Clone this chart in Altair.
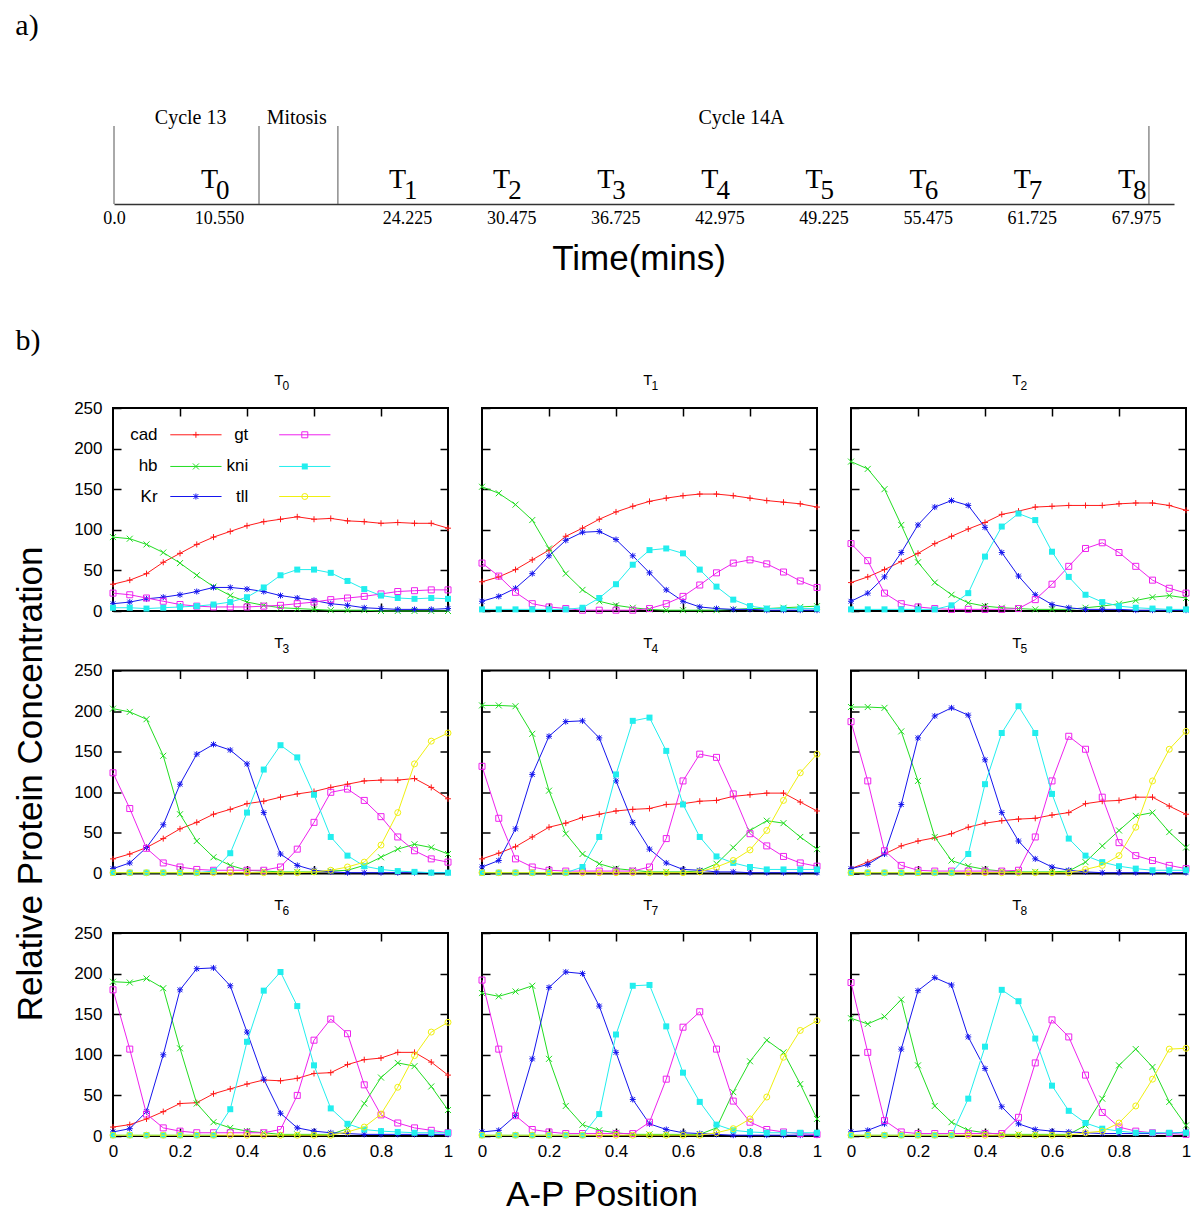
import altair as alt
import pandas as pd

# ---------------- data ----------------
X_POS = [0.0, 0.05, 0.1, 0.15, 0.2, 0.25, 0.3, 0.35, 0.4, 0.45, 0.5,
         0.55, 0.6, 0.65, 0.7, 0.75, 0.8, 0.85, 0.9, 0.95, 1.0]

GENES = ["cad", "hb", "Kr", "gt", "kni", "tll"]
GENE_COLORS = ["#ff1a1a", "#22dd22", "#1515ee", "#ee22ee", "#22eeee", "#f0f010"]
PLUS = "M-1,0L1,0M0,-1L0,1"
CROSS = "M-1,-1L1,1M-1,1L1,-1"
STAR = "M-1,0L1,0M0,-1L0,1M-0.8,-0.8L0.8,0.8M-0.8,0.8L0.8,-0.8"
GENE_SHAPES = [PLUS, CROSS, STAR, "square", "square", "circle"]
GENE_FILLED = [False, False, False, False, True, False]

T0_cad = [33, 38, 46, 60, 71, 82, 91, 98, 105, 110, 113, 116, 113, 114, 111, 110, 108, 109, 108, 108, 102]
T0_hb = [91, 89, 82, 72, 59, 44, 30, 19, 11, 7, 4, 3, 2, 1, 1, 1, 0, 0, 0, 0, 0]
T0_Kr = [9, 11, 15, 17, 20, 24, 29, 29, 27, 24, 19, 16, 13, 9, 7, 4, 3, 2, 2, 2, 3]
T0_gt = [22, 20, 16, 12, 8, 6, 5, 5, 5, 6, 7, 9, 11, 14, 16, 18, 21, 24, 25, 26, 26]
T0_kni = [4, 4, 3, 4, 5, 6, 8, 11, 17, 29, 44, 51, 51, 47, 37, 27, 19, 16, 15, 16, 15]

T1_cad = [36, 42, 51, 63, 75, 92, 102, 113, 122, 129, 135, 139, 142, 144, 144, 142, 139, 136, 134, 132, 128]
T1_hb = [153, 145, 131, 112, 77, 46, 26, 12, 7, 4, 2, 1, 1, 1, 1, 2, 3, 3, 4, 5, 6]
T1_Kr = [12, 18, 28, 46, 68, 87, 97, 98, 88, 68, 47, 26, 12, 5, 3, 2, 2, 1, 1, 1, 1]
T1_gt = [59, 43, 23, 9, 5, 3, 1, 1, 1, 1, 3, 9, 18, 32, 47, 59, 63, 58, 48, 37, 29]
T1_kni = [2, 2, 2, 2, 2, 2, 4, 16, 33, 57, 75, 77, 71, 51, 30, 14, 6, 3, 3, 3, 3]

T2_cad = [35, 42, 51, 61, 71, 83, 92, 101, 109, 119, 123, 128, 129, 130, 130, 130, 132, 133, 133, 130, 124]
T2_hb = [184, 175, 150, 106, 60, 35, 20, 10, 6, 4, 3, 2, 2, 2, 4, 6, 9, 13, 17, 19, 16]
T2_Kr = [12, 22, 42, 72, 106, 128, 136, 130, 103, 72, 43, 20, 8, 4, 2, 2, 2, 1, 1, 1, 1]
T2_gt = [83, 62, 22, 9, 5, 3, 2, 2, 2, 2, 3, 14, 33, 55, 77, 84, 72, 55, 38, 28, 22]
T2_kni = [2, 2, 2, 2, 2, 2, 7, 22, 67, 104, 120, 112, 73, 42, 20, 11, 6, 4, 3, 2, 2]

T3_cad = [18, 24, 32, 43, 55, 63, 73, 79, 86, 89, 94, 98, 101, 106, 110, 114, 115, 115, 117, 106, 92]
T3_hb = [203, 199, 190, 145, 73, 40, 20, 10, 4, 3, 2, 2, 2, 3, 4, 10, 20, 30, 36, 32, 24]
T3_Kr = [6, 13, 32, 60, 110, 147, 159, 152, 135, 75, 24, 10, 4, 2, 1, 1, 1, 1, 1, 1, 1]
T3_gt = [124, 80, 31, 13, 8, 5, 4, 4, 4, 4, 8, 30, 63, 100, 104, 90, 70, 45, 28, 18, 14]
T3_kni = [1, 1, 1, 1, 1, 1, 3, 25, 75, 128, 158, 143, 97, 45, 22, 9, 5, 3, 2, 1, 1]
T3_tll = [1, 1, 1, 1, 1, 1, 1, 1, 1, 1, 1, 1, 2, 4, 8, 14, 35, 75, 135, 163, 173]

T4_cad = [18, 25, 33, 45, 57, 62, 69, 73, 77, 79, 80, 85, 86, 89, 90, 95, 97, 99, 99, 88, 77]
T4_hb = [207, 207, 206, 172, 102, 49, 24, 12, 6, 4, 2, 2, 2, 3, 12, 32, 53, 65, 62, 45, 30]
T4_Kr = [8, 16, 55, 122, 169, 187, 188, 167, 114, 63, 30, 13, 5, 4, 2, 2, 1, 1, 1, 1, 1]
T4_gt = [132, 68, 18, 8, 4, 3, 3, 3, 3, 3, 8, 43, 114, 147, 143, 98, 49, 34, 21, 13, 9]
T4_kni = [1, 1, 1, 1, 1, 1, 8, 45, 122, 188, 192, 151, 85, 45, 21, 13, 8, 5, 5, 5, 5]
T4_tll = [1, 1, 1, 1, 1, 1, 1, 1, 1, 1, 1, 1, 1, 2, 8, 16, 29, 53, 90, 124, 147]

T5_cad = [6, 14, 24, 34, 40, 44, 49, 57, 62, 65, 67, 68, 72, 75, 86, 89, 90, 94, 94, 83, 73]
T5_hb = [205, 205, 204, 175, 114, 45, 16, 9, 5, 3, 2, 2, 2, 3, 14, 34, 53, 71, 75, 51, 32]
T5_Kr = [6, 11, 24, 85, 167, 194, 204, 195, 140, 75, 40, 18, 8, 4, 2, 1, 1, 1, 1, 1, 1]
T5_gt = [187, 114, 28, 10, 4, 3, 3, 3, 3, 3, 4, 45, 114, 169, 153, 94, 38, 22, 16, 10, 6]
T5_kni = [1, 1, 1, 1, 1, 1, 1, 24, 110, 173, 206, 173, 98, 43, 22, 14, 9, 6, 4, 4, 4]
T5_tll = [1, 1, 1, 1, 1, 1, 1, 1, 1, 1, 1, 1, 1, 1, 5, 10, 22, 57, 114, 153, 175]

T6_cad = [11, 14, 21, 30, 40, 41, 52, 58, 64, 69, 68, 71, 77, 78, 88, 94, 96, 103, 103, 91, 75]
T6_hb = [190, 189, 194, 182, 108, 40, 17, 10, 6, 4, 2, 2, 2, 2, 9, 40, 72, 90, 86, 61, 32]
T6_Kr = [5, 9, 30, 100, 180, 206, 207, 185, 128, 70, 28, 10, 6, 4, 3, 2, 2, 2, 2, 2, 2]
T6_gt = [180, 107, 27, 10, 6, 4, 4, 4, 4, 4, 8, 50, 118, 144, 126, 63, 26, 16, 10, 7, 4]
T6_kni = [1, 1, 1, 1, 1, 1, 1, 33, 116, 179, 202, 160, 87, 34, 15, 8, 6, 5, 4, 4, 4]
T6_tll = [1, 1, 1, 1, 1, 1, 1, 1, 1, 1, 1, 1, 1, 1, 5, 11, 27, 60, 99, 128, 140]

T7_hb = [176, 172, 178, 185, 95, 37, 14, 7, 4, 2, 2, 2, 2, 2, 10, 54, 92, 118, 103, 64, 21]
T7_Kr = [5, 7, 25, 95, 183, 202, 200, 160, 103, 45, 15, 8, 4, 3, 2, 1, 1, 1, 1, 1, 1]
T7_gt = [192, 107, 25, 8, 5, 3, 3, 3, 3, 3, 17, 70, 134, 153, 107, 43, 17, 8, 5, 3, 2]
T7_kni = [1, 1, 1, 1, 1, 1, 1, 27, 125, 185, 186, 135, 78, 42, 14, 7, 5, 4, 4, 4, 4]
T7_tll = [1, 1, 1, 1, 1, 1, 1, 1, 1, 1, 1, 1, 1, 1, 4, 9, 21, 48, 97, 130, 142]

T8_hb = [145, 138, 147, 168, 87, 37, 17, 7, 4, 2, 2, 2, 2, 2, 13, 46, 87, 107, 85, 42, 13]
T8_Kr = [5, 7, 15, 107, 179, 195, 186, 122, 83, 36, 15, 8, 6, 5, 4, 3, 3, 3, 3, 3, 5]
T8_gt = [189, 103, 19, 5, 3, 3, 3, 3, 3, 3, 23, 90, 143, 122, 75, 29, 11, 6, 4, 3, 2]
T8_kni = [1, 1, 1, 1, 1, 1, 1, 46, 110, 180, 166, 120, 62, 31, 16, 9, 6, 4, 4, 4, 4]
T8_tll = [1, 1, 1, 1, 1, 1, 1, 1, 1, 1, 1, 1, 1, 1, 4, 6, 16, 37, 70, 107, 108]

PANEL_DATA = [
    {"cad": T0_cad, "hb": T0_hb, "Kr": T0_Kr, "gt": T0_gt, "kni": T0_kni},
    {"cad": T1_cad, "hb": T1_hb, "Kr": T1_Kr, "gt": T1_gt, "kni": T1_kni},
    {"cad": T2_cad, "hb": T2_hb, "Kr": T2_Kr, "gt": T2_gt, "kni": T2_kni},
    {"cad": T3_cad, "hb": T3_hb, "Kr": T3_Kr, "gt": T3_gt, "kni": T3_kni, "tll": T3_tll},
    {"cad": T4_cad, "hb": T4_hb, "Kr": T4_Kr, "gt": T4_gt, "kni": T4_kni, "tll": T4_tll},
    {"cad": T5_cad, "hb": T5_hb, "Kr": T5_Kr, "gt": T5_gt, "kni": T5_kni, "tll": T5_tll},
    {"cad": T6_cad, "hb": T6_hb, "Kr": T6_Kr, "gt": T6_gt, "kni": T6_kni, "tll": T6_tll},
    {"hb": T7_hb, "Kr": T7_Kr, "gt": T7_gt, "kni": T7_kni, "tll": T7_tll},
    {"hb": T8_hb, "Kr": T8_Kr, "gt": T8_gt, "kni": T8_kni, "tll": T8_tll},
]

# timeline
TIME_TICKS = [0.0, 10.55, 24.225, 30.475, 36.725, 42.975, 49.225, 55.475, 61.725, 67.975]
SAMPLE_TIMES = TIME_TICKS[1:]
SAMPLE_IDX = ["0", "1", "2", "3", "4", "5", "6", "7", "8"]
PHASE_BOUNDS = [0.0, 13.46, 19.2, 68.75]
PHASE_NAMES = ["Cycle 13", "Mitosis", "Cycle 14A"]
PHASE_LABEL_AT = [7.7, 16.2, 44.3]

# ---------------- layout constants ----------------
W, H = 335, 203
COL_GAP, ROW_GAP = 34, 59.5
W_TOP, H_TOP = 1062, 78
SANS = "Liberation Sans"
SERIF = "Liberation Serif"
BIG = "Liberation Sans"
TICK_LEN = 8


def in_axis(orient, values, labels, pad, fmt):
    return alt.Axis(orient=orient, values=values, labels=labels, tickSize=TICK_LEN,
                    tickWidth=1.5, tickColor="black", offset=-TICK_LEN, domain=False,
                    grid=False, title=None, labelFont=SANS, labelFontSize=17,
                    labelColor="black", labelPadding=pad, labelFlush=False,
                    labelOverlap=False, format=fmt)


def make_panel(k):
    data = PANEL_DATA[k]
    row, col = divmod(k, 3)
    xs = alt.Scale(domain=[0, 1], nice=False, zero=False)
    ys = alt.Scale(domain=[0, 250], nice=False)
    frames = [pd.DataFrame({"x": X_POS, "v": data[g], "gene": g}) for g in GENES if g in data]
    df = pd.concat(frames, ignore_index=True)

    layers = []
    layers.append(alt.Chart(df).mark_point(opacity=0).encode(
        x=alt.X("x:Q", scale=xs,
                axis=in_axis("bottom", [0, 0.2, 0.4, 0.6, 0.8, 1], row == 2, 7, "~g")),
        y=alt.Y("v:Q", scale=ys,
                axis=in_axis("left", [0, 50, 100, 150, 200, 250], col == 0, 11, "d")),
    ))
    layers.append(alt.Chart(df).mark_point(opacity=0).encode(
        x=alt.X("x:Q", scale=xs, axis=in_axis("top", [0.2, 0.4, 0.6, 0.8], False, 4, "~g")),
        y=alt.Y("v:Q", scale=ys, axis=in_axis("right", [50, 100, 150, 200], False, 4, "d")),
    ))

    for g, c, sh, fl in zip(GENES, GENE_COLORS, GENE_SHAPES, GENE_FILLED):
        if g not in data:
            continue
        base = alt.Chart(df[df.gene == g]).encode(
            x=alt.X("x:Q", scale=xs, axis=None),
            y=alt.Y("v:Q", scale=ys, axis=None),
        )
        layers.append(base.mark_line(color=c, strokeWidth=1))
        layers.append(base.mark_point(shape=sh, filled=fl, color=c, size=36,
                                      strokeWidth=1, opacity=1))

    # panel title T_k
    tdf = pd.DataFrame({"t": ["T"], "s": [SAMPLE_IDX[k]]})
    layers.append(alt.Chart(tdf).mark_text(align="right", baseline="alphabetic", font=SANS,
                                           fontSize=15, color="black").encode(
        x=alt.value(W / 2 + 3), y=alt.value(-23), text="t:N"))
    layers.append(alt.Chart(tdf).mark_text(align="left", baseline="alphabetic", font=SANS,
                                           fontSize=12, color="black").encode(
        x=alt.value(W / 2 + 2), y=alt.value(-18), text="s:N"))

    if k == 0:
        # in-plot legend, two columns of three
        lrows = []
        for i, g in enumerate(GENES):
            c_i, r_i = divmod(i, 3)
            lx = [0.133, 0.404][c_i]
            x1, x2 = [(0.171, 0.324), (0.496, 0.649)][c_i]
            lrows.append({"gene": g, "lx": lx, "x1": x1, "x2": x2,
                          "xm": (x1 + x2) / 2, "v": [217, 178, 141][r_i]})
        ldf = pd.DataFrame(lrows)
        layers.append(alt.Chart(ldf).mark_text(align="right", baseline="middle", font=SANS,
                                               fontSize=17, color="black").encode(
            x=alt.X("lx:Q", scale=xs, axis=None), y=alt.Y("v:Q", scale=ys, axis=None),
            text="gene:N"))
        for g, c, sh, fl in zip(GENES, GENE_COLORS, GENE_SHAPES, GENE_FILLED):
            sub = alt.Chart(ldf[ldf.gene == g])
            layers.append(sub.mark_rule(color=c, strokeWidth=1).encode(
                x=alt.X("x1:Q", scale=xs, axis=None), x2="x2:Q",
                y=alt.Y("v:Q", scale=ys, axis=None)))
            layers.append(sub.mark_point(shape=sh, filled=fl, color=c, size=36,
                                         strokeWidth=1, opacity=1).encode(
                x=alt.X("xm:Q", scale=xs, axis=None), y=alt.Y("v:Q", scale=ys, axis=None)))
        layers.append(alt.Chart(pd.DataFrame({"t": ["b)"]})).mark_text(
            align="center", baseline="middle", font=SERIF, fontSize=30, color="black").encode(
            x=alt.value(-85), y=alt.value(-67), text="t:N"))

    if k == 3:
        layers.append(alt.Chart(pd.DataFrame({"t": ["Relative Protein Concentration"]})).mark_text(
            align="center", baseline="middle", angle=270, font=BIG, fontSize=35,
            color="black").encode(x=alt.value(-82), y=alt.value(H / 2 + 12), text="t:N"))
    if k == 7:
        layers.append(alt.Chart(pd.DataFrame({"t": ["A-P Position"]})).mark_text(
            align="center", baseline="middle", font=BIG, fontSize=35,
            color="black").encode(x=alt.value(120), y=alt.value(262), text="t:N"))

    return alt.layer(*layers).resolve_axis(x="independent", y="independent").properties(
        width=W, height=H)


# ---------------- timeline (panel a) ----------------
ts = alt.Scale(domain=[0, 10.55, 24.225, 67.975, 70.25],
               range=[1, 106, 294, 1023, 1061], nice=False, zero=False)

time_axis = alt.Axis(orient="bottom", values=TIME_TICKS, ticks=False, domainColor="#333333",
                     domainWidth=1.5, grid=False, title=None, labelFont=SERIF,
                     labelFontSize=18, labelColor="black", labelPadding=5,
                     labelFlush=False, labelOverlap=False,
                     labelExpr="datum.value == 0 ? '0.0' : format(datum.value, '.3f')")

bdf = pd.DataFrame({"t": PHASE_BOUNDS})
pdf = pd.DataFrame({"t": PHASE_LABEL_AT, "name": PHASE_NAMES})
sdf = pd.DataFrame({"t": SAMPLE_TIMES, "T": ["T"] * len(SAMPLE_TIMES), "idx": SAMPLE_IDX})

top_layers = [
    alt.Chart(bdf).mark_rule(color="#555555", strokeWidth=1).encode(
        x=alt.X("t:Q", scale=ts, axis=time_axis), y=alt.value(0), y2=alt.value(H_TOP)),
    alt.Chart(pdf).mark_text(align="center", baseline="alphabetic", font=SERIF, fontSize=20,
                             color="black").encode(
        x=alt.X("t:Q", scale=ts), y=alt.value(-2), text="name:N"),
    alt.Chart(sdf).mark_text(align="right", baseline="alphabetic", font=SERIF, fontSize=28,
                             color="black", dx=-1).encode(
        x=alt.X("t:Q", scale=ts), y=alt.value(62), text="T:N"),
    alt.Chart(sdf).mark_text(align="left", baseline="alphabetic", font=SERIF, fontSize=27,
                             color="black", dx=-3).encode(
        x=alt.X("t:Q", scale=ts), y=alt.value(73), text="idx:N"),
    alt.Chart(pd.DataFrame({"t": ["Time(mins)"]})).mark_text(
        align="center", baseline="middle", font=BIG, fontSize=35, color="black").encode(
        x=alt.value(526), y=alt.value(133), text="t:N"),
    alt.Chart(pd.DataFrame({"t": ["a)"]})).mark_text(
        align="center", baseline="middle", font=SERIF, fontSize=30, color="black").encode(
        x=alt.value(-86), y=alt.value(-100), text="t:N"),
]
top = alt.layer(*top_layers).properties(width=W_TOP, height=H_TOP,
                                        view=alt.ViewBackground(stroke="transparent"))

grid = alt.concat(*[make_panel(k) for k in range(9)], columns=3,
                  spacing={"row": ROW_GAP, "column": COL_GAP}, bounds="flush")

chart = alt.vconcat(top, grid, spacing=204, bounds="flush").properties(
    padding={"left": 4, "top": 2, "right": 0, "bottom": 5},
    background="white").configure_view(stroke="black", strokeWidth=2)

chart.save("out.html", embed_options={"renderer": "svg", "actions": False})
